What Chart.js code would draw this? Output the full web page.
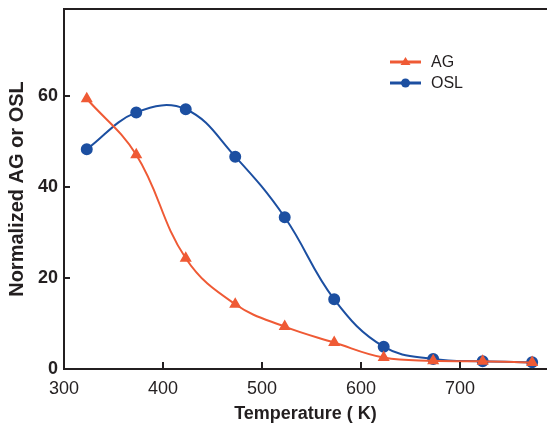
<!DOCTYPE html>
<html>
<head>
<meta charset="utf-8">
<script src="https://cdn.jsdelivr.net/npm/chart.js@4"></script>
<style>
  body { margin: 0; background: #fff; }
  canvas { display: block; }
</style>
</head>
<body>
<canvas id="chart" width="547" height="425"></canvas>
<script>
const temps = [323, 373, 423, 473, 523, 573, 623, 673, 723, 773];
const agValues = [59.3, 47.0, 24.3, 14.2, 9.3, 5.8, 2.5, 1.8, 1.7, 1.4];
const oslValues = [48.2, 56.3, 57.0, 46.6, 33.3, 15.3, 4.9, 2.2, 1.7, 1.5];
const xTicks = [300, 400, 500, 600, 700];
const yTicks = [0, 20, 40, 60];

const axisColor = '#231f20';
const font = "'Liberation Sans', Arial, sans-serif";

function points(values) {
    return temps.map((t, i) => ({x: t, y: values[i]}));
}

function noPadding(s) {
    s.paddingTop = 0;
    s.paddingBottom = 0;
    s.paddingLeft = 0;
    s.paddingRight = 0;
}

// inward tick marks and the top border line
const frame = {
    id: 'frame',
    afterDraw(chart) {
        const c = chart.ctx;
        const a = chart.chartArea;
        const xs = chart.scales.x;
        const ys = chart.scales.y;
        c.save();
        c.strokeStyle = axisColor;
        c.lineWidth = 2;
        c.beginPath();
        c.moveTo(a.left - 1, a.top);
        c.lineTo(a.right, a.top);
        xTicks.slice(1).forEach(v => {
            const px = Math.round(xs.getPixelForValue(v));
            c.moveTo(px, a.bottom);
            c.lineTo(px, a.bottom - 7);
        });
        yTicks.slice(1).forEach(v => {
            const py = Math.round(ys.getPixelForValue(v));
            c.moveTo(a.left, py);
            c.lineTo(a.left + 6, py);
        });
        c.stroke();
        c.restore();
    }
};

// legend drawn inside the plot
const insideLegend = {
    id: 'insideLegend',
    afterDraw(chart) {
        const c = chart.ctx;
        const x0 = 390, x1 = 421, top = 62, gap = 21;
        c.save();
        chart.data.datasets.forEach((ds, i) => {
            const y = top + i * gap;
            c.strokeStyle = ds.borderColor;
            c.lineWidth = 3;
            c.beginPath();
            c.moveTo(x0, y);
            c.lineTo(x1, y);
            c.stroke();
            c.fillStyle = ds.borderColor;
            c.beginPath();
            const mx = (x0 + x1) / 2;
            if (ds.pointStyle === 'triangle') {
                c.moveTo(mx, y - 5);
                c.lineTo(mx + 5, y + 3);
                c.lineTo(mx - 5, y + 3);
                c.closePath();
            } else {
                c.arc(mx, y, 4.5, 0, Math.PI * 2);
            }
            c.fill();
            c.fillStyle = '#231f20';
            c.font = '16px ' + font;
            c.textBaseline = 'middle';
            c.fillText(ds.label, 431, y + 1);
        });
        c.restore();
    }
};

new Chart(document.getElementById('chart'), {
    type: 'line',
    data: {
        datasets: [{
            label: 'AG',
            data: points(agValues),
            borderColor: '#ef5a35',
            backgroundColor: '#ef5a35',
            borderWidth: 2,
            pointStyle: 'triangle',
            pointRadius: 5,
            tension: 0.4,
            fill: false
        }, {
            label: 'OSL',
            data: points(oslValues),
            borderColor: '#1c4fa1',
            backgroundColor: '#1c4fa1',
            borderWidth: 2,
            pointStyle: 'circle',
            pointRadius: 5,
            tension: 0.4,
            fill: false
        }]
    },
    options: {
        responsive: false,
        animation: false,
        layout: { autoPadding: false, padding: { top: 9, right: 0, left: 0, bottom: 0 } },
        plugins: {
            legend: { display: false },
            tooltip: { enabled: false }
        },
        scales: {
            x: {
                type: 'linear',
                min: 300,
                max: 788,
                afterBuildTicks: s => { s.ticks = xTicks.map(v => ({value: v})); },
                afterFit: s => { s.height = 56; noPadding(s); },
                grid: { display: false, drawTicks: false },
                border: { display: true, color: axisColor, width: 2 },
                ticks: {
                    color: '#231f20',
                    padding: 9,
                    maxRotation: 0,
                    autoSkip: false,
                    font: { family: font, size: 18 }
                },
                title: {
                    display: true,
                    text: 'Temperature ( K)',
                    color: '#231f20',
                    padding: { top: 0, bottom: 0 },
                    font: { family: font, size: 18, weight: 'bold' }
                }
            },
            y: {
                min: 0,
                max: 79,
                afterBuildTicks: s => { s.ticks = yTicks.map(v => ({value: v})); },
                afterFit: s => { s.width = 64; noPadding(s); },
                grid: { display: false, drawTicks: false },
                border: { display: true, color: axisColor, width: 2 },
                ticks: {
                    color: '#231f20',
                    padding: 6,
                    font: { family: font, size: 18, weight: 'bold' }
                },
                title: {
                    display: true,
                    text: 'Normalized AG or OSL',
                    color: '#231f20',
                    padding: { top: 5, bottom: 0 },
                    font: { family: font, size: 20, weight: 'bold' }
                }
            }
        }
    },
    plugins: [frame, insideLegend]
});
</script>
</body>
</html>
